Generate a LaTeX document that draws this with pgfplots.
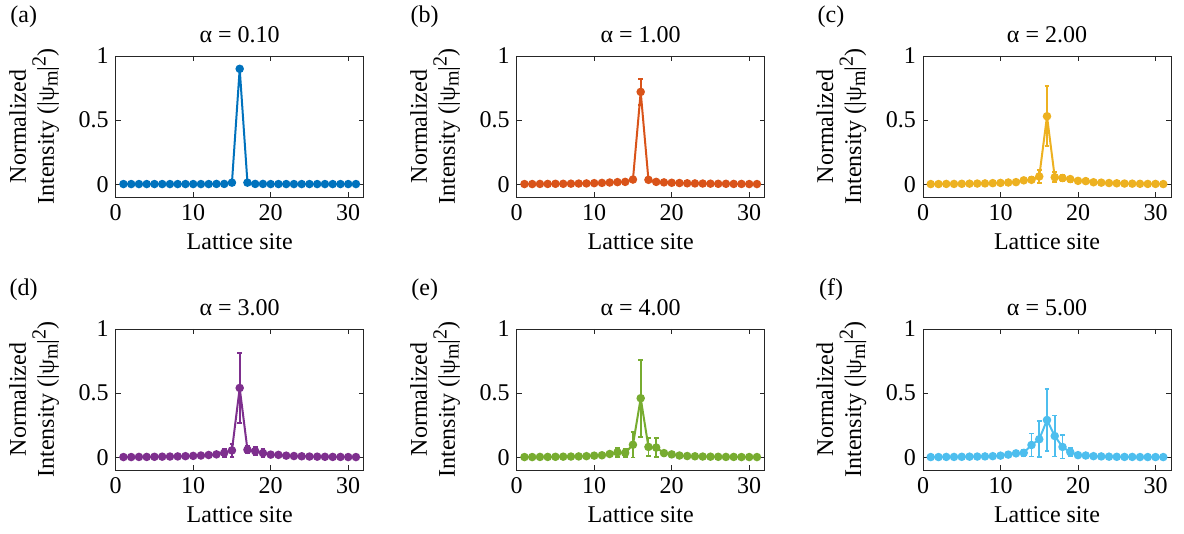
\documentclass[border=0pt]{standalone}
\usepackage{pgfplots}
\pgfplotsset{compat=1.18}
\usepackage{pgfplotstable}
\usepackage{fontspec}
\setmainfont{Liberation Serif}
\definecolor{ca}{HTML}{0072BD}
\definecolor{cb}{HTML}{D95319}
\definecolor{cc}{HTML}{EDB120}
\definecolor{cd}{HTML}{7E2F8E}
\definecolor{ce}{HTML}{77AC30}
\definecolor{cf}{HTML}{4DBEEE}

\pgfplotstableread{
x y e
1 0.001 0
2 0.001 0
3 0.001 0
4 0.001 0
5 0.001 0
6 0.001 0
7 0.001 0
8 0.001 0
9 0.001 0
10 0.001 0
11 0.001 0
12 0.001 0
13 0.002 0
14 0.002 0
15 0.012 0.002
16 0.900 0.003
17 0.012 0.002
18 0.002 0
19 0.002 0
20 0.001 0
21 0.001 0
22 0.001 0
23 0.001 0
24 0.001 0
25 0.001 0
26 0.001 0
27 0.001 0
28 0.001 0
29 0.001 0
30 0.001 0
31 0.001 0
}\tA

\pgfplotstableread{
x y e
1 0.001 0.001
2 0.001 0.001
3 0.002 0.001
4 0.002 0.001
5 0.003 0.001
6 0.003 0.001
7 0.004 0.002
8 0.005 0.002
9 0.006 0.002
10 0.008 0.003
11 0.010 0.003
12 0.013 0.004
13 0.016 0.005
14 0.018 0.006
15 0.036 0.010
16 0.720 0.100
17 0.034 0.010
18 0.018 0.006
19 0.014 0.005
20 0.011 0.004
21 0.009 0.003
22 0.007 0.003
23 0.006 0.002
24 0.005 0.002
25 0.004 0.002
26 0.003 0.001
27 0.003 0.001
28 0.002 0.001
29 0.002 0.001
30 0.001 0.001
31 0.001 0.001
}\tB

\pgfplotstableread{
x y e
1 0.001 0.001
2 0.001 0.001
3 0.002 0.001
4 0.002 0.001
5 0.003 0.001
6 0.004 0.002
7 0.005 0.002
8 0.006 0.002
9 0.008 0.003
10 0.010 0.004
11 0.013 0.005
12 0.016 0.006
13 0.030 0.010
14 0.034 0.020
15 0.060 0.050
16 0.530 0.235
17 0.054 0.040
18 0.048 0.025
19 0.040 0.020
20 0.026 0.012
21 0.024 0.010
22 0.015 0.006
23 0.012 0.005
24 0.009 0.004
25 0.007 0.003
26 0.005 0.002
27 0.004 0.002
28 0.003 0.001
29 0.002 0.001
30 0.002 0.001
31 0.001 0.001
}\tC

\pgfplotstableread{
x y e
1 0.001 0.001
2 0.001 0.001
3 0.002 0.001
4 0.002 0.001
5 0.003 0.001
6 0.004 0.002
7 0.005 0.002
8 0.006 0.002
9 0.008 0.003
10 0.010 0.004
11 0.013 0.005
12 0.017 0.006
13 0.022 0.010
14 0.034 0.030
15 0.053 0.050
16 0.540 0.275
17 0.058 0.030
18 0.047 0.030
19 0.032 0.030
20 0.020 0.015
21 0.018 0.010
22 0.012 0.006
23 0.009 0.004
24 0.007 0.003
25 0.005 0.002
26 0.004 0.002
27 0.003 0.001
28 0.002 0.001
29 0.002 0.001
30 0.001 0.001
31 0.001 0.001
}\tD

\pgfplotstableread{
x y e
1 0.001 0.001
2 0.001 0.001
3 0.002 0.001
4 0.002 0.001
5 0.003 0.001
6 0.004 0.002
7 0.005 0.002
8 0.006 0.002
9 0.008 0.003
10 0.012 0.006
11 0.015 0.010
12 0.025 0.020
13 0.038 0.035
14 0.034 0.030
15 0.097 0.100
16 0.460 0.300
17 0.080 0.070
18 0.075 0.075
19 0.032 0.020
20 0.022 0.020
21 0.013 0.010
22 0.009 0.005
23 0.007 0.003
24 0.005 0.002
25 0.004 0.002
26 0.003 0.001
27 0.002 0.001
28 0.002 0.001
29 0.001 0.001
30 0.001 0.001
31 0.001 0.001
}\tE

\pgfplotstableread{
x y e
1 0.001 0.001
2 0.001 0.001
3 0.002 0.001
4 0.002 0.001
5 0.003 0.001
6 0.004 0.002
7 0.005 0.002
8 0.006 0.002
9 0.008 0.003
10 0.012 0.005
11 0.020 0.010
12 0.030 0.020
13 0.034 0.025
14 0.095 0.090
15 0.140 0.140
16 0.290 0.240
17 0.165 0.160
18 0.080 0.090
19 0.040 0.030
20 0.016 0.012
21 0.013 0.010
22 0.008 0.004
23 0.006 0.003
24 0.004 0.002
25 0.003 0.001
26 0.002 0.001
27 0.002 0.001
28 0.001 0.001
29 0.001 0.001
30 0.001 0.001
31 0.001 0.001
}\tF

\pgfplotsset{
  panel/.style={
    anchor=north west, scale only axis, width=124pt, height=70.5pt,
    xmin=0, xmax=32, ymin=-0.1, ymax=1,
    xtick={0,10,20,30}, ytick={0,0.5,1},
    tick align=inside, major tick length=2.5pt,
    axis line style={black!85, line width=0.4pt},
    tick style={black!85, line width=0.4pt},
    /pgf/number format/assume math mode=true,
    ticklabel style={font=\fontsize{12}{14}\selectfont},
    xlabel={Lattice site},
    ylabel={Normalized\\Intensity (|ψ\raisebox{-0.35ex}{\fontsize{10}{12}\selectfont m}|\raisebox{0.75ex}{\fontsize{10}{12}\selectfont 2})},
    label style={font=\fontsize{12}{14}\selectfont},
    ylabel style={align=center, at={(axis description cs:-0.2,0.5)}},
    title style={font=\fontsize{12}{14}\selectfont, yshift=-3pt},
  },
  dat/.style={color=#1, line width=1pt, mark=*, mark size=1.6pt,
    mark options={solid, fill=#1},
    error bars/.cd, y dir=both, y explicit,
    error bar style={line width=0.9pt, #1},
    error mark options={rotate=90, mark size=1.2pt, line width=0.9pt, #1}},
}

\begin{document}
\begin{tikzpicture}
\path[use as bounding box] (0,0) rectangle (592pt,-267pt);
\begin{axis}[panel, at={(57.85pt,-28pt)}, title={α = 0.10}]
\addplot[dat=ca] table[x=x, y=y, y error=e] {\tA};
\end{axis}
\begin{axis}[panel, at={(258.35pt,-28pt)}, title={α = 1.00}]
\addplot[dat=cb] table[x=x, y=y, y error=e] {\tB};
\end{axis}
\begin{axis}[panel, at={(461.5pt,-28pt)}, title={α = 2.00}]
\addplot[dat=cc] table[x=x, y=y, y error=e] {\tC};
\end{axis}
\begin{axis}[panel, at={(57.85pt,-164.5pt)}, title={α = 3.00}]
\addplot[dat=cd] table[x=x, y=y, y error=e] {\tD};
\end{axis}
\begin{axis}[panel, at={(258.35pt,-164.5pt)}, title={α = 4.00}]
\addplot[dat=ce] table[x=x, y=y, y error=e] {\tE};
\end{axis}
\begin{axis}[panel, at={(461.5pt,-164.5pt)}, title={α = 5.00}]
\addplot[dat=cf] table[x=x, y=y, y error=e] {\tF};
\end{axis}
\node[font=\fontsize{12}{14}\selectfont] at (11.85pt,-8.5pt) {(a)};
\node[font=\fontsize{12}{14}\selectfont] at (212.35pt,-8.5pt) {(b)};
\node[font=\fontsize{12}{14}\selectfont] at (415.5pt,-8.5pt) {(c)};
\node[font=\fontsize{12}{14}\selectfont] at (11.85pt,-145pt) {(d)};
\node[font=\fontsize{12}{14}\selectfont] at (212.35pt,-145pt) {(e)};
\node[font=\fontsize{12}{14}\selectfont] at (415.5pt,-145pt) {(f)};
\end{tikzpicture}
\end{document}
